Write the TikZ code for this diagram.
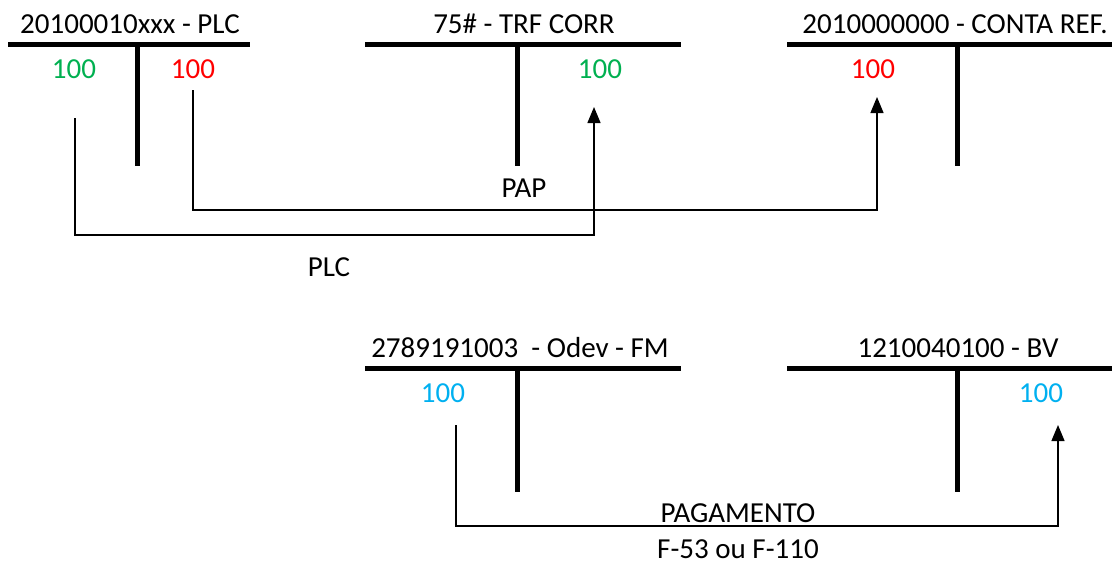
\documentclass[tikz,border=0pt]{standalone}
\usepackage{fontspec}
\setmainfont{Carlito}
\usetikzlibrary{arrows.meta,positioning,calc}
\definecolor{debit}{HTML}{00B050}
\definecolor{credit}{HTML}{FF0000}
\definecolor{payment}{HTML}{00B0F0}
\tikzset{tip/.tip={Triangle[length=16pt,width=13pt]}}

\begin{document}
\begin{tikzpicture}[x=1pt,y=-1pt,
  tbar/.style={line width=5pt},
  title/.style={anchor=base,inner sep=0pt,font=\fontsize{29}{34}\selectfont},
  amt/.style={anchor=base,inner sep=0pt,font=\fontsize{29}{34}\selectfont},
  note/.style={anchor=base,inner sep=0pt,font=\fontsize{29}{34}\selectfont},
  link/.style={line width=1.3pt,-tip}]
\useasboundingbox (0,0) rectangle (1112,563);
% T accounts, top row
\node[title] (plc) at (130,33) {20100010xxx - PLC};
\node[title] (trf) at (524,33) {75\# - TRF CORR};
\node[title] (ref) at (955,33) {2010000000 - CONTA REF.};
\draw[tbar] (8,44)--(250,44) (137,44)--(137,166);
\draw[tbar] (365,44)--(681,44) (517,44)--(517,166);
\draw[tbar] (787,44)--(1112,44) (957,44)--(957,166);
\node[amt,text=debit] (plcdeb) at (74,78) {100};
\node[amt,text=credit] (plccred) at (193,78) {100};
\node[amt,text=debit] (trfdeb) at (600,78) {100};
\node[amt,text=credit] (refcred) at (873,78) {100};
% T accounts, bottom row
\node[title] (odev) at (520,357) {2789191003\ \ - Odev - FM};
\node[title] (bv) at (958,357) {1210040100 - BV};
\draw[tbar] (365,368)--(681,368) (517,368)--(517,492);
\draw[tbar] (787,368)--(1112,368) (957,368)--(957,492);
\node[amt,text=payment] (odevamt) at (443,402) {100};
\node[amt,text=payment] (bvamt) at (1041,402) {100};
% connectors
\coordinate (plcsrc) at (75,118);
\coordinate (trfdst) at (594,107);
\coordinate (papsrc) at (193,90);
\coordinate (refdst) at (877,97);
\coordinate (pagsrc) at (456,425);
\coordinate (bvdst) at (1058,425);
\draw[link] (papsrc)--(papsrc |- 0,210)-|(refdst);
\draw[link] (plcsrc)--(plcsrc |- 0,235)-|(trfdst);
\draw[link] (pagsrc)--(pagsrc |- 0,526)-|(bvdst);
\node[note] (pap) at (524,197) {PAP};
\node[note] (plclbl) at (329,276) {PLC};
\node[note] (pag) at (738,522) {PAGAMENTO};
\node[note] (form) at (738,558) {F-53 ou F-110};
\end{tikzpicture}
\end{document}
